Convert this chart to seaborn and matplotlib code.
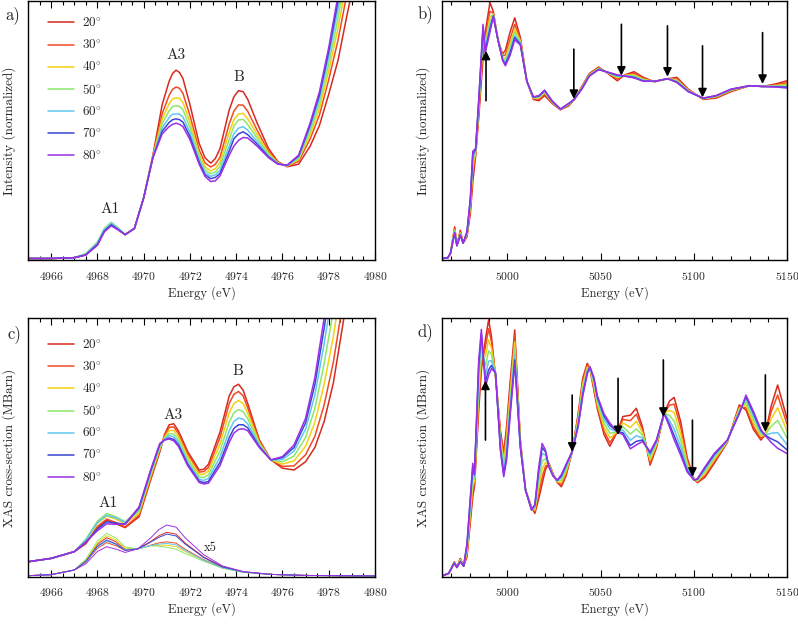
import numpy as np
import pandas as pd
import seaborn as sns
import matplotlib
matplotlib.use('Agg')
import matplotlib.pyplot as plt
from matplotlib.ticker import MultipleLocator
from matplotlib.transforms import ScaledTranslation

# angles and colours
angles = ['20', '30', '40', '50', '60', '70', '80']
colors = ['#d62a1e', '#f04a23', '#f2d114', '#8de86a', '#62c6f2', '#3b45d4', '#9b2fe6']

# a) pre-edge, normalized intensity (0 = bottom of axes, 100 = top)
a_x = [4965.0, 4966.0, 4967.0, 4967.5, 4968.0, 4968.3, 4968.6, 4968.9, 4969.2, 4969.6,
       4970.0, 4970.4, 4970.8, 4971.1, 4971.25, 4971.4, 4971.55, 4971.7, 4972.0, 4972.4,
       4972.65, 4972.9, 4973.1, 4973.3, 4973.7, 4973.9, 4974.1, 4974.3, 4974.5, 4974.9,
       4975.4, 4975.8, 4976.2, 4976.7, 4977.2, 4977.6, 4978.0, 4978.4, 4978.8, 4979.4, 4980.0]
a_20 = [0.6, 0.6, 0.9, 2.0, 6.0, 11.2, 13.6, 11.8, 9.8, 12.2, 24.0, 40.5, 60.0, 69.0, 72.0, 73.3, 72.4, 70.0, 60.0, 45.0,
        39.5, 37.4, 39.2, 43.0, 58.0, 63.0, 65.4, 65.0, 62.0, 53.0, 43.0, 38.0, 36.0, 37.0, 44.0, 52.0, 64.0, 77.0, 95.0, 120, 150]
a_30 = [0.6, 0.6, 0.9, 2.1, 6.2, 11.4, 13.8, 11.9, 9.8, 12.2, 24.0, 40.2, 56.5, 63.6, 65.9, 66.8, 66.3, 64.3, 55.8, 42.5,
        37.5, 35.9, 37.0, 39.7, 52.6, 57.5, 59.9, 59.8, 57.4, 50.2, 41.9, 37.7, 36.2, 38.1, 46.8, 56.0, 69.6, 84.8, 103.4, 129, 159]
a_40 = [0.6, 0.6, 0.9, 2.3, 6.6, 11.8, 14.2, 12.1, 9.8, 12.2, 24.0, 40.0, 54.4, 60.3, 62.2, 62.6, 62.4, 60.8, 53.3, 41.0,
        36.0, 34.4, 35.3, 37.8, 49.3, 54.2, 56.4, 56.6, 54.5, 48.5, 41.3, 37.5, 36.3, 38.8, 48.5, 58.5, 73.0, 89.5, 108.5, 135, 165]
a_50 = [0.6, 0.6, 0.9, 2.5, 7.0, 12.2, 14.6, 12.4, 9.8, 12.2, 24.0, 39.9, 52.7, 57.6, 59.3, 59.5, 59.3, 58.0, 51.2, 39.8,
        34.9, 33.3, 34.0, 36.2, 46.6, 51.7, 54.1, 54.3, 52.3, 47.1, 40.7, 37.4, 36.4, 39.3, 49.9, 60.5, 75.7, 93.3, 112.6, 139.5, 169.5]
a_60 = [0.6, 0.6, 0.9, 2.3, 6.6, 11.8, 14.2, 12.1, 9.8, 12.2, 24.0, 39.7, 51.0, 55.0, 56.3, 56.4, 56.3, 55.2, 49.2, 38.6,
        33.9, 32.3, 32.9, 34.6, 44.0, 48.8, 50.9, 51.5, 50.1, 45.8, 40.2, 37.2, 36.5, 39.8, 51.2, 62.4, 78.4, 97.0, 116.6, 144, 174]
a_70 = [0.6, 0.6, 0.9, 2.0, 6.0, 11.2, 13.6, 11.8, 9.8, 12.2, 24.0, 39.6, 49.7, 53.1, 54.2, 54.5, 54.2, 53.2, 47.7, 37.7,
        33.0, 31.4, 31.9, 33.4, 42.1, 46.8, 48.7, 49.5, 48.4, 44.8, 39.8, 37.1, 36.55, 40.2, 52.2, 63.8, 80.4, 99.8, 119.6, 147.3, 177.3]
a_80 = [0.6, 0.6, 0.9, 1.9, 5.7, 10.9, 13.2, 11.6, 9.8, 12.2, 24.0, 39.5, 48.7, 51.5, 52.4, 52.8, 52.4, 51.5, 46.5, 37.0,
        32.3, 30.3, 30.6, 32.5, 40.5, 44.0, 46.2, 47.3, 47.1, 44.0, 39.5, 37.0, 36.6, 40.5, 53.0, 65.0, 82.0, 102.0, 122.0, 150, 180]

# b) full edge + EXAFS, normalized intensity
b_x = [4965, 4968, 4969.5, 4971.8, 4973.0, 4974.8, 4976.3, 4978.4, 4980.2, 4981.5,
       4983.0, 4984.7, 4987.0, 4988.2, 4990.7, 4992.5, 4995.0, 4997.5, 4999.0, 5001.5,
       5004.0, 5007.0, 5010.5, 5014.0, 5017.0, 5020.0, 5024.0, 5028.5, 5033.0, 5036.0,
       5040.0, 5044.0, 5049.0, 5054.0, 5059.0, 5063.0, 5068.0, 5073.0, 5079.0, 5086.0,
       5091.0, 5097.0, 5105.0, 5112.0, 5120.0, 5130.0, 5137.0, 5144.0, 5150.0]
b_20 = [0.6, 0.8, 2.5, 12.8, 5.8, 11.5, 6.5, 9, 18, 30, 40, 55, 78, 88, 99.4, 96, 85, 79.5, 81, 88,
        93.5, 86, 69, 62, 61.5, 63.5, 60.5, 58, 59.5, 62.1, 67, 72, 74.5, 72, 69.2, 71.5, 72.7, 70.5, 68.8, 70,
        70.5, 66, 62, 62.5, 65, 67.3, 67, 68, 69.2]
b_30 = [0.6, 0.8, 2.5, 12.0, 5.7, 10.9, 6.5, 9.6, 19.8, 33.6, 40.9, 57.1, 81.9, 85.6, 96, 95.4, 85, 78.8, 79.2, 85.3,
        91, 85.1, 69, 62.3, 62.1, 64.1, 60.8, 58.1, 59.8, 62.1, 66.7, 71.7, 74.2, 72.2, 69.9, 71.4, 72, 70, 68.9, 70,
        69.9, 65.7, 62.2, 62.8, 65.3, 67.3, 67, 67.6, 68.4]
b_40 = [0.6, 0.8, 2.5, 11.6, 5.7, 10.5, 6.5, 10, 21, 36, 41.5, 58.5, 84.5, 84, 93.7, 95, 85, 78.3, 78, 83.5,
        89.3, 84.5, 69, 62.5, 62.5, 64.6, 61, 58.2, 60, 62.1, 66.5, 71.5, 74, 72.3, 70.4, 71.3, 71.5, 69.8, 68.9, 70,
        69.5, 65.5, 62.3, 63, 65.5, 67.3, 67, 67.4, 67.8]
b_50 = [0.6, 0.8, 2.5, 11.2, 5.6, 10.2, 6.5, 10.3, 21.9, 37.8, 42, 59.6, 86.5, 82.8, 92, 94.7, 85, 77.9, 77.1, 82.2,
        88, 84, 69, 62.7, 62.8, 64.9, 61.2, 58.2, 60.2, 62.1, 66.4, 71.4, 73.9, 72.3, 70.7, 71.2, 71.1, 69.5, 68.9, 70,
        69.2, 65.4, 62.3, 63.2, 65.7, 67.3, 67, 67.2, 67.4]
b_60 = [0.6, 0.8, 2.5, 10.8, 5.6, 9.9, 6.5, 10.6, 22.8, 39.6, 42.4, 60.6, 88.4, 81.6, 90.3, 94.4, 85, 77.5, 76.2, 80.8,
        86.7, 83.6, 69, 62.8, 63.1, 65.2, 61.3, 58.2, 60.3, 62.1, 66.2, 71.2, 73.7, 72.4, 71, 71.1, 70.8, 69.3, 69, 70,
        68.9, 65.2, 62.4, 63.3, 65.8, 67.3, 67, 67, 66.9]
b_70 = [0.6, 0.8, 2.5, 10.6, 5.5, 9.7, 6.5, 10.8, 23.4, 40.8, 42.7, 61.3, 89.7, 80.8, 89.1, 94.2, 85, 77.3, 75.6, 79.9,
        85.9, 83.3, 69, 62.9, 63.3, 65.4, 61.4, 58.3, 60.4, 62.1, 66.1, 71.1, 73.6, 72.5, 71.3, 71, 70.5, 69.1, 69, 70,
        68.7, 65.1, 62.5, 63.4, 65.9, 67.3, 67, 66.9, 66.7]
b_80 = [0.6, 0.8, 2.5, 10.3, 5.5, 9.5, 6.5, 11, 24, 42, 43, 62, 91, 80, 88, 94, 85, 77, 75, 79,
        85, 83, 69, 63, 63.5, 65.6, 61.5, 58.3, 60.5, 62.1, 66, 71, 73.5, 72.5, 71.5, 71, 70.3, 69, 69, 70,
        68.5, 65, 62.5, 63.5, 66, 67.3, 67, 66.8, 66.4]
b_arrow_x = [4988.6, 5035.7, 5061.2, 5085.9, 5104.7, 5136.9]
b_arrow_from = [61.5, 81.4, 91.0, 90.4, 82.7, 87.8]
b_arrow_to = [80.8, 62.2, 71.2, 70.8, 62.8, 68.0]

# c) pre-edge, XAS cross-section
c_x = [4965, 4966, 4967, 4967.5, 4968.0, 4968.4, 4968.8, 4969.2, 4969.8, 4970.3,
       4970.7, 4970.9, 4971.1, 4971.3, 4971.5, 4971.9, 4972.4, 4972.6, 4972.8, 4973.3,
       4973.7, 4973.9, 4974.1, 4974.3, 4974.5, 4975.0, 4975.5, 4976.0, 4976.5, 4977.0,
       4977.4, 4977.8, 4978.2, 4978.6, 4979.2, 4980.0]
c_20 = [5.8, 7.1, 9.7, 12.8, 19.0, 21.9, 20.5, 19.0, 23.2, 37.4, 48.4, 55.0, 58.8, 59.2, 56.5, 48.5, 41.3, 41.6, 43.5, 56,
        70, 73.5, 74.5, 72.2, 67, 53, 45.2, 42, 41.3, 44.5, 50, 60, 75, 97, 130, 180]
c_30 = [5.8, 7.1, 9.7, 13.0, 19.4, 22.3, 21.0, 19.3, 23.8, 38.0, 48.9, 54.5, 57.8, 58.0, 55.5, 47.6, 40.5, 40.7, 42.3, 53.9,
        67.1, 70.6, 71.7, 70.0, 65.3, 52.5, 45.2, 42.7, 42.9, 47.2, 54.3, 66.4, 83, 105.5, 139.6, 189.6]
c_40 = [5.8, 7.1, 9.7, 13.8, 20.6, 23.5, 22.3, 20.5, 24.6, 38.8, 49.6, 54.0, 56.6, 56.6, 54.3, 46.5, 39.6, 39.6, 40.9, 51.3,
        63.5, 67.0, 68.2, 67.0, 63.2, 51.9, 45.2, 43.6, 44.8, 50.5, 59.7, 74.4, 93, 116.1, 151.6, 201.6]
c_50 = [5.8, 7.1, 9.7, 14.5, 21.5, 24.5, 23.2, 21.3, 25.3, 39.6, 50.2, 53.5, 55.4, 55.2, 53.1, 45.4, 38.6, 38.4, 39.4, 48.7,
        59.9, 63.4, 64.7, 63.9, 61.1, 51.3, 45.2, 44.5, 46.7, 53.9, 65.1, 82.4, 103, 126.7, 163.6, 213.6]
c_60 = [5.8, 7.1, 9.7, 14.2, 21.0, 23.8, 22.8, 21.0, 26.1, 40.3, 50.8, 53.3, 54.6, 54.2, 52.0, 44.4, 37.7, 37.3, 38.0, 46.3,
        56.5, 60.1, 61.4, 61.0, 59.1, 50.8, 45.2, 45.4, 48.6, 57.1, 70.3, 90, 112.5, 136.8, 175, 225]
c_70 = [5.8, 7.1, 9.7, 13.3, 18.5, 21.3, 20.8, 20.3, 26.6, 40.9, 51.3, 52.9, 53.7, 53.2, 51.1, 43.6, 37.0, 36.4, 36.9, 44.3,
        53.8, 57.4, 58.8, 58.8, 57.6, 50.3, 45.2, 46.1, 50.0, 59.6, 74.3, 96, 120, 144.7, 184, 234]
c_80 = [5.8, 7.1, 9.7, 13.5, 17.8, 20.5, 20.3, 20.5, 27.0, 41.3, 51.6, 52.9, 53.3, 52.6, 50.5, 43.0, 36.5, 35.9, 36.2, 43.0,
        52.0, 55.6, 57.0, 57.3, 56.5, 50.0, 45.2, 46.5, 51.0, 61.3, 77, 100, 125, 150, 190, 240]

# c) pre-edge components magnified x5
c5_x = [4965, 4966, 4967, 4967.5, 4968.0, 4968.4, 4968.8, 4969.2, 4969.75, 4970.3,
        4970.65, 4971.0, 4971.4, 4971.8, 4972.6, 4973.4, 4974.3, 4975.5, 4977.0, 4980.0]
c5_20 = [0.4, 0.8, 2.6, 6.2, 12.5, 15.1, 13.5, 10.5, 10.8, 13.6, 15.8, 17.2, 16.5, 13.0, 7.6, 3.9, 1.9, 0.9, 0.5, 0.3]
c5_30 = [0.4, 0.8, 2.6, 5.6, 11.0, 13.2, 12.0, 10.2, 10.8, 12.2, 13.1, 13.5, 13.0, 10.6, 6.6, 3.6, 1.8, 0.9, 0.5, 0.3]
c5_40 = [0.4, 0.8, 2.6, 6.4, 13.0, 15.9, 14.2, 11.0, 10.8, 12.0, 12.2, 12.2, 11.6, 9.8, 6.2, 3.4, 1.8, 0.9, 0.5, 0.3]
c5_50 = [0.4, 0.8, 2.6, 6.8, 13.8, 16.8, 15.0, 11.5, 10.8, 12.0, 11.8, 11.4, 10.6, 9.0, 6.0, 3.3, 1.7, 0.9, 0.5, 0.3]
c5_60 = [0.4, 0.8, 2.6, 5.8, 11.5, 13.8, 12.5, 10.5, 10.8, 12.0, 12.6, 12.9, 12.3, 10.2, 6.4, 3.5, 1.8, 0.9, 0.5, 0.3]
c5_70 = [0.4, 0.8, 2.6, 6.0, 11.8, 14.2, 12.7, 10.2, 10.8, 13.4, 15.2, 16.5, 15.8, 12.6, 7.4, 3.8, 1.9, 0.9, 0.5, 0.3]
c5_80 = [0.4, 0.8, 2.6, 5.0, 9.8, 11.6, 10.7, 9.4, 10.8, 15.0, 18.2, 20.0, 19.2, 15.0, 8.5, 4.2, 2.0, 0.9, 0.5, 0.3]

# d) full edge + EXAFS, XAS cross-section
d_x = [4965, 4968.6, 4971.6, 4973.0, 4974.8, 4976.6, 4978.4, 4981.5, 4982.4, 4984.7,
       4986.1, 4988.3, 4990.0, 4991.5, 4993.7, 4996.3, 4998.1, 4999.6, 5001.5, 5004.0,
       5007.0, 5009.8, 5013.0, 5014.8, 5016.8, 5018.7, 5020.5, 5022.3, 5024.5, 5026.8,
       5029.0, 5031.5, 5034.8, 5038.0, 5040.5, 5042.9, 5044.3, 5046.5, 5048.3, 5051.9,
       5055.0, 5059.0, 5062.0, 5066.0, 5069.2, 5072.5, 5076.6, 5080.0, 5084.1, 5087.0,
       5089.5, 5093.0, 5096.5, 5100.2, 5102.0, 5106.0, 5111.0, 5118.0, 5124.4, 5128.0,
       5132.0, 5136.0, 5138.2, 5141.5, 5145.0, 5150.0]
d_20 = [0.3, 1.3, 5.8, 3.6, 7.1, 4.1, 7.7, 31, 34.8, 64.5, 80, 92, 99.4, 93, 77.4, 56.8, 48, 58, 75, 95.5,
        53, 33.5, 27, 24.5, 30, 36, 41.5, 43.9, 40, 36.5, 34.8, 39, 48.4, 63, 77, 82.6, 80.5, 72, 65, 55,
        50.5, 56.1, 62, 62.5, 65.2, 58, 43.2, 50, 63.2, 68, 69.4, 60, 46, 37.8, 36.4, 38.5, 43.9, 52, 66.5, 64.5,
        57, 52.9, 54.8, 66, 74.2, 61.3]
d_30 = [0.3, 1.3, 5.7, 3.6, 6.9, 4.1, 8.5, 33.1, 35.6, 67.6, 82.5, 89, 96, 91, 77.7, 55.6, 46.5, 55.9, 72.9, 93.4,
        52.5, 33.5, 26.8, 25.1, 31.9, 38.5, 42.7, 43.7, 39.8, 36.6, 35.6, 39.7, 48.4, 62.2, 75.9, 81.9, 80.6, 72.8, 65.8, 56.3,
        51.9, 56.1, 60.9, 60.4, 62.9, 57.1, 44, 50.5, 63.2, 66.4, 66.8, 57.9, 45.1, 37.7, 36.7, 39.1, 44.5, 52.1, 65.9, 65.4,
        58.1, 53.6, 54.8, 63.8, 70.3, 59.1]
d_40 = [0.3, 1.3, 5.6, 3.6, 6.6, 4.1, 9.6, 35.6, 36.7, 71.5, 85.7, 85.3, 91.7, 88.5, 78, 54, 44.7, 53.3, 70.3, 90.9,
        51.9, 33.5, 26.6, 25.8, 34.3, 41.6, 44.2, 43.4, 39.6, 36.8, 36.5, 40.6, 48.4, 61.2, 74.5, 81.1, 80.8, 73.8, 66.8, 57.9,
        53.7, 56.1, 59.5, 57.8, 60.1, 55.9, 45.1, 51.1, 63.2, 64.4, 63.5, 55.3, 44, 37.7, 37, 39.9, 45.3, 52.3, 65.2, 66.6,
        59.5, 54.4, 54.8, 61, 65.4, 56.4]
d_50 = [0.3, 1.3, 5.5, 3.6, 6.4, 4.1, 10.6, 38.2, 37.7, 75.4, 88.8, 81.6, 87.4, 86, 78.3, 52.4, 42.8, 50.7, 67.7, 88.3,
        51.3, 33.5, 26.3, 26.5, 36.7, 44.7, 45.7, 43.2, 39.4, 37, 37.4, 41.5, 48.4, 60.2, 73.1, 80.3, 81, 74.8, 67.8, 59.5,
        55.5, 56.1, 58.1, 55.2, 57.2, 54.8, 46.1, 51.7, 63.2, 62.4, 60.2, 52.7, 42.9, 37.6, 37.3, 40.7, 46, 52.5, 64.5, 67.7,
        60.9, 55.2, 54.8, 58.2, 60.5, 53.7]
d_60 = [0.3, 1.3, 5.4, 3.6, 6.1, 4.1, 11.6, 40.7, 38.7, 79.1, 91.8, 78.1, 83.4, 83.6, 78.6, 51, 41, 48.3, 65.3, 85.8,
        50.8, 33.5, 26.1, 27.1, 39, 47.7, 47.1, 42.9, 39.3, 37.2, 38.3, 42.4, 48.4, 59.3, 71.8, 79.5, 81.1, 75.8, 68.8, 61,
        57.3, 56.1, 56.8, 52.8, 54.6, 53.7, 47.1, 52.3, 63.2, 60.5, 57.1, 50.3, 41.9, 37.5, 37.6, 41.5, 46.8, 52.7, 63.9, 68.9,
        62.3, 56, 54.8, 55.5, 55.8, 51.1]
d_70 = [0.3, 1.3, 5.3, 3.6, 5.9, 4.1, 12.4, 42.6, 39.5, 82, 94.1, 75.4, 80.1, 81.8, 78.8, 49.8, 39.6, 46.3, 63.3, 83.9,
        50.3, 33.5, 25.9, 27.7, 40.8, 50, 48.3, 42.7, 39.1, 37.3, 39, 43.1, 48.4, 58.5, 70.7, 78.9, 81.2, 76.5, 69.5, 62.2,
        58.6, 56.1, 55.7, 50.8, 52.4, 52.9, 47.9, 52.7, 63.2, 59, 54.6, 48.3, 41, 37.4, 37.8, 42.1, 47.3, 52.8, 63.3, 69.7,
        63.3, 56.6, 54.8, 53.4, 52.2, 49.1]
d_80 = [0.3, 1.3, 5.2, 3.6, 5.8, 4.1, 12.9, 43.9, 40, 83.9, 95.7, 73.5, 78, 80.5, 79, 49, 38.7, 45, 62, 82.6,
        50, 33.5, 25.8, 28, 42, 51.6, 49, 42.6, 39, 37.4, 39.5, 43.5, 48.4, 58, 70, 78.5, 81.3, 77, 70, 63,
        59.5, 56.1, 55, 49.5, 51, 52.3, 48.4, 53, 63.2, 58, 53, 47, 40.5, 37.4, 38, 42.5, 47.7, 52.9, 63, 70.3,
        64, 57, 54.8, 52, 49.7, 47.7]
d_arrow_x = [4988.3, 5034.8, 5059.4, 5083.7, 5099.3, 5138.4]
d_arrow_from = [52.9, 70.3, 76.8, 83.9, 60.6, 78.1]
d_arrow_to = [75.9, 48.4, 54.8, 61.9, 38.7, 56.1]

# peak labels
a_lab = ['A1', 'A3', 'B']
a_lab_x = [4968.55, 4971.4, 4974.1]
a_lab_h = [19.5, 79.0, 70.5]
c_lab = ['A1', 'A3', 'B']
c_lab_x = [4968.46, 4971.27, 4974.09]
c_lab_h = [28.4, 62.6, 79.4]

sns.set_style('ticks')
plt.rcParams['font.family'] = ['cmr10', 'DejaVu Serif']
plt.rcParams['mathtext.fontset'] = 'cm'
plt.rcParams['axes.formatter.use_mathtext'] = True


def draw(ax, x, curves, lw):
    frames = [pd.DataFrame({'E': x, 'h': y, 'angle': a}) for a, y in zip(angles, curves)]
    df = pd.concat(frames, ignore_index=True)
    sns.lineplot(data=df, x='E', y='h', hue='angle', hue_order=angles, palette=colors,
                 estimator=None, sort=False, linewidth=lw, legend=False, ax=ax)


def style(ax, xlim, major, minor, ylabel):
    ax.set_xlim(xlim)
    ax.set_ylim(0, 100)
    ax.set_yticks([])
    ax.xaxis.set_major_locator(MultipleLocator(major))
    ax.xaxis.set_minor_locator(MultipleLocator(minor))
    ax.tick_params(axis='x', which='both', direction='in', top=True, bottom=True,
                   labelsize=8.4, pad=7, color='k', width=0.8)
    ax.tick_params(axis='x', which='major', length=5)
    ax.tick_params(axis='x', which='minor', length=3)
    ax.set_xlabel('Energy (eV)', fontsize=9, labelpad=3)
    ax.set_ylabel(ylabel, fontsize=9.5, labelpad=9)
    for s in ax.spines.values():
        s.set_visible(True)
        s.set_color('k')
        s.set_linewidth(1.0)


def nudge_last_label(ax):
    # keep the right-most tick label inside the canvas
    fig.canvas.draw()
    labs = [t for t in ax.get_xticklabels() if t.get_text()]
    last = labs[-1]
    last.set_transform(last.get_transform() + ScaledTranslation(-2.5 / 72, 0, fig.dpi_scale_trans))


def add_legend(ax, top):
    labels = [a + r'$^{\circ}$' for a in angles]
    ax.legend(ax.lines[:7], labels, loc='upper left', bbox_to_anchor=(0.042, top),
              frameon=False, fontsize=9.5, handlelength=2.0, handletextpad=0.6,
              labelspacing=0.62, borderaxespad=0)


def add_arrows(ax, xs, h0, h1):
    for x, y0, y1 in zip(xs, h0, h1):
        ax.annotate('', xy=(x, y1), xytext=(x, y0),
                    arrowprops=dict(arrowstyle='-|>,head_length=0.5,head_width=0.25',
                                    color='k', lw=1.2, shrinkA=0, shrinkB=0))


fig = plt.figure(figsize=(7.98, 6.29), dpi=100)
ax_a = fig.add_axes([0.0351, 0.5866, 0.4348, 0.4118])
ax_b = fig.add_axes([0.5539, 0.5866, 0.4323, 0.4118])
ax_c = fig.add_axes([0.0351, 0.0831, 0.4348, 0.4108])
ax_d = fig.add_axes([0.5539, 0.0831, 0.4323, 0.4108])

draw(ax_a, a_x, [a_20, a_30, a_40, a_50, a_60, a_70, a_80], 1.1)
style(ax_a, (4965, 4980), 2, 0.5, 'Intensity (normalized)')
add_legend(ax_a, 0.962)
for t, x, h in zip(a_lab, a_lab_x, a_lab_h):
    ax_a.text(x, h, t, ha='center', va='center', fontsize=11)

draw(ax_b, b_x, [b_20, b_30, b_40, b_50, b_60, b_70, b_80], 1.1)
style(ax_b, (4965, 5150), 50, 10, 'Intensity (normalized)')
add_arrows(ax_b, b_arrow_x, b_arrow_from, b_arrow_to)

draw(ax_c, c_x, [c_20, c_30, c_40, c_50, c_60, c_70, c_80], 1.1)
draw(ax_c, c5_x, [c5_20, c5_30, c5_40, c5_50, c5_60, c5_70, c5_80], 0.7)
style(ax_c, (4965, 4980), 2, 0.5, 'XAS cross-section (MBarn)')
add_legend(ax_c, 0.945)
for t, x, h in zip(c_lab, c_lab_x, c_lab_h):
    ax_c.text(x, h, t, ha='center', va='center', fontsize=11)
ax_c.text(4972.9, 11.2, 'x5', ha='center', va='center', fontsize=9)

draw(ax_d, d_x, [d_20, d_30, d_40, d_50, d_60, d_70, d_80], 1.1)
style(ax_d, (4965, 5150), 50, 10, 'XAS cross-section (MBarn)')
add_arrows(ax_d, d_arrow_x, d_arrow_from, d_arrow_to)

fig.text(0.0063, 0.976, 'a)', fontsize=12, va='center')
fig.text(0.5238, 0.978, 'b)', fontsize=12, va='center')
fig.text(0.0088, 0.469, 'c)', fontsize=12, va='center')
fig.text(0.5238, 0.472, 'd)', fontsize=12, va='center')

nudge_last_label(ax_b)
nudge_last_label(ax_d)

fig.savefig('out.png', dpi=100)
